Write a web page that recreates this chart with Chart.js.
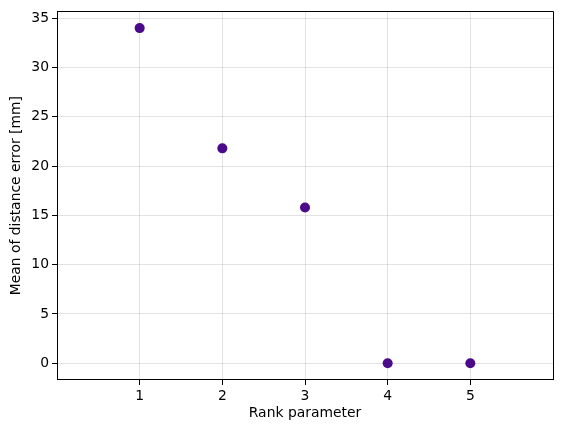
<!DOCTYPE html>
<html><head><meta charset="utf-8">
<script src="https://cdn.jsdelivr.net/npm/chart.js@4"></script>
<style>html,body{margin:0;padding:0;background:#fff}#w{width:562px;height:432px}</style>
</head><body><div id="w"><canvas id="c"></canvas></div>
<script>
const rankParams = [1, 2, 3, 4, 5];
const meanErrors = [34.0, 21.8, 15.8, 0.0, 0.0];
const xTicks = [1, 2, 3, 4, 5];
const yTicks = [0, 5, 10, 15, 20, 25, 30, 35];

const boxPlugin = {
  id: 'box',
  afterDraw(chart) {
    const a = chart.chartArea, ctx = chart.ctx;
    const al = v => Math.round(v - 0.5) + 0.5;
    ctx.save();
    ctx.strokeStyle = '#000';
    ctx.lineWidth = 1;
    ctx.beginPath();
    ctx.moveTo(al(a.left), al(a.top));
    ctx.lineTo(al(a.right), al(a.top));
    ctx.lineTo(al(a.right), al(a.bottom));
    ctx.stroke();
    ctx.restore();
  }
};
const font = {family: 'DejaVu Sans', size: 13.9};
new Chart(document.getElementById('c'), {
  type: 'scatter',
  data: {datasets: [{
    data: rankParams.map((x, i) => ({x: x, y: meanErrors[i]})),
    backgroundColor: '#4B0A8A', borderColor: '#4B0A8A',
    pointRadius: 5, pointHoverRadius: 5, borderWidth: 0
  }]},
  options: {
    responsive: true, maintainAspectRatio: false, animation: false,
    devicePixelRatio: 1,
    layout: {padding: {top: 9, right: 9, left: 8, bottom: 10}},
    plugins: {legend: {display: false}, tooltip: {enabled: false}},
    scales: {
      x: {
        type: 'linear', min: 0, max: 6,
        afterBuildTicks: s => { s.ticks = xTicks.map(v => ({value: v})); },
        afterFit: s => { s.height = 42; },
        ticks: {color: '#000', font: font, padding: 3, maxRotation: 0},
        grid: {color: 'rgba(176,176,176,0.35)', tickColor: '#000', tickLength: 5, lineWidth: 1},
        border: {color: '#000', width: 1},
        title: {display: true, text: 'Rank parameter', color: '#000', font: font, padding: {top: 2, bottom: 0}}
      },
      y: {
        type: 'linear', min: -1.7, max: 35.7,
        afterBuildTicks: s => { s.ticks = yTicks.map(v => ({value: v})); },
        afterFit: s => { s.width = 49; },
        ticks: {color: '#000', font: font, padding: 3},
        grid: {color: 'rgba(176,176,176,0.35)', tickColor: '#000', tickLength: 5, lineWidth: 1},
        border: {color: '#000', width: 1},
        title: {display: true, text: 'Mean of distance error [mm]', color: '#000', font: font, padding: {top: 0, bottom: 4}}
      }
    }
  },
  plugins: [boxPlugin]
});
</script></body></html>
